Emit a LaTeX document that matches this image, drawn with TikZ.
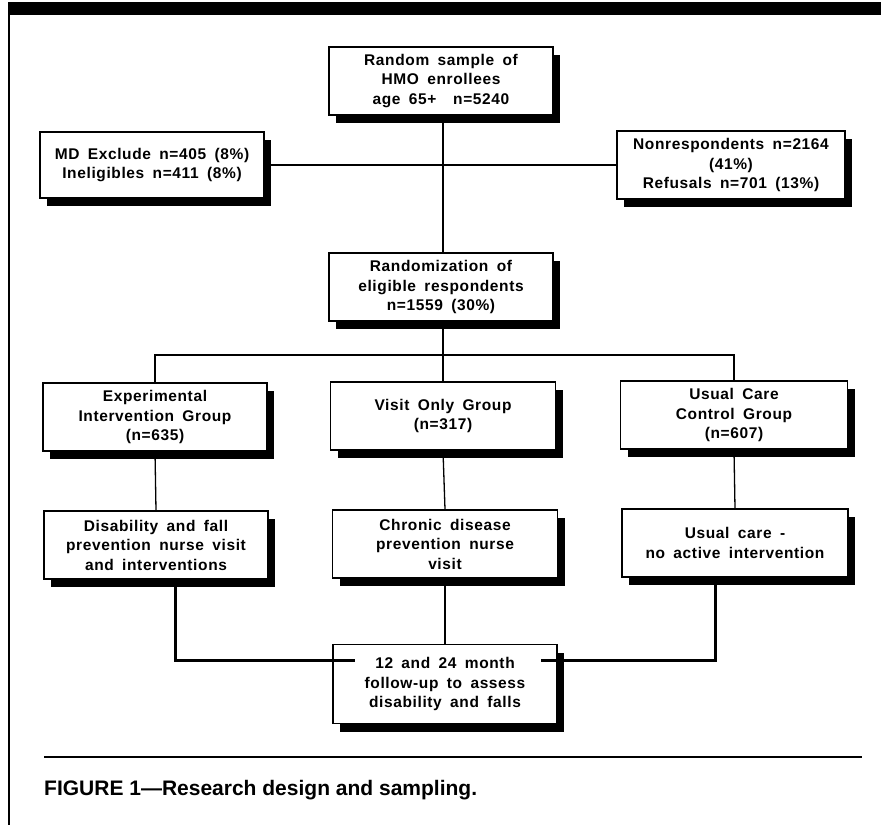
\documentclass[tikz,border=0pt]{standalone}
\usepackage{fontspec}
\newfontfamily\boxfont{Liberation Sans}[WordSpace=1.7, LetterSpace=4]
\newfontfamily\capfont{Liberation Sans}
\usetikzlibrary{shadows}
\tikzstyle{box}=[draw, line width=1.4pt, fill=white, align=center,
  minimum width=224pt, minimum height=68pt, inner sep=2pt,
  font=\boxfont\bfseries\fontsize{15.5}{19.5}\selectfont,
  drop shadow={shadow xshift=7pt, shadow yshift=-8pt, opacity=1, fill=black}]
\tikzstyle{link}=[line width=1.3pt]
\tikzstyle{feed}=[line width=3pt]

\begin{document}
\begin{tikzpicture}[x=1pt, y=-1pt]
          \useasboundingbox (0,0) rectangle (881,825);
          \fill (8,2) rectangle (881,15);
          \draw[line width=2pt] (9,14) -- (9,825);

          \node[box] (sample) at (441,81) {Random sample of\\HMO enrollees\\age 65+ \ n=5240};
          \node[box, minimum height=66pt] (exclude) at (152,165) {MD Exclude n=405 (8\%)\\Ineligibles n=411 (8\%)};
          \node[box, minimum width=228pt] (nonresp) at (731,165) {Nonrespondents n=2164\\(41\%)\\Refusals n=701 (13\%)};
          \node[box] (random) at (441,287) {Randomization of\\eligible respondents\\n=1559 (30\%)};

          \node[box] (exper) at (155,417) {Experimental\\Intervention Group\\(n=635)};
          \node[box, minimum width=225pt] (visit) at (443,416) {Visit Only Group\\(n=317)};
          \node[box, minimum width=227pt] (usual) at (734,415) {Usual Care\\Control Group\\(n=607)};

          \node[box] (disab) at (156,545) {Disability and fall\\prevention nurse visit\\and interventions};
          \node[box, minimum width=225pt] (chronic) at (445,544) {Chronic disease\\prevention nurse\\visit};
          \node[box, minimum width=226pt] (nocare) at (735,543) {Usual care -\\no active intervention};

          \node[box, minimum height=79pt] (follow) at (445,684) {12 and 24 month\\follow-up to assess\\disability and falls};

          \coordinate (fork) at (443,355);
          \coordinate (joinL) at (355,660);
          \coordinate (joinR) at (541,660);

          \draw[link] (sample.south -| fork) -- (random.north -| fork);
          \draw[link] (exclude.east) -- (nonresp.west);
          \draw[link] (random.south -| fork) -- (fork);
          \draw[link] (exper.north) |- (fork) -| (usual.north);
          \draw[link] (fork) -- (visit.north -| fork);
          \draw[link] (exper.south) -- (disab.north);
          \draw[link] (visit.south) -- (chronic.north);
          \draw[link] (usual.south) -- (nocare.north);
          \draw[link] (chronic.south) -- (follow.north);
          \draw[feed] ([xshift=19pt]disab.south) |- (joinL);
          \draw[feed] ([xshift=-20pt]nocare.south) |- (joinR);

          \draw[line width=1.5pt] (44,757) -- (862,757);
          \node[anchor=west, inner sep=0pt, font=\capfont\bfseries\fontsize{21}{25}\selectfont] (caption) at (44,790) {FIGURE 1—Research design and sampling.};
        \end{tikzpicture}
\end{document}
